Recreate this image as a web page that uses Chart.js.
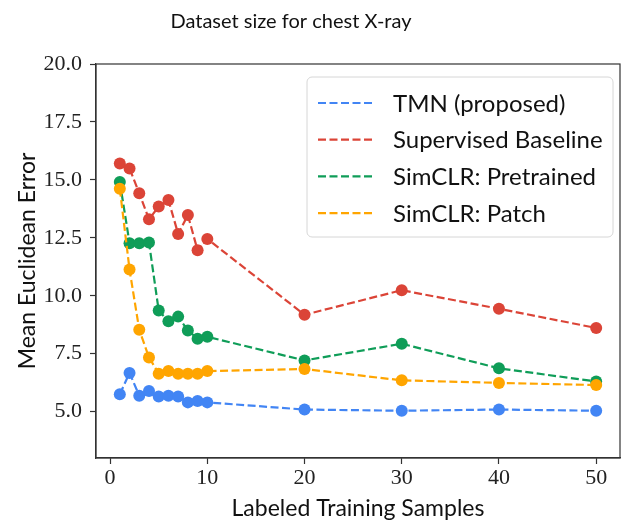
<!DOCTYPE html>
<html>
<head>
<meta charset="utf-8">
<script src="https://cdn.jsdelivr.net/npm/chart.js@4.4.0/dist/chart.umd.min.js"></script>
<style>
  html, body { margin: 0; padding: 0; background: #fff; }
  #wrap { width: 626px; height: 522px; }
</style>
</head>
<body>
<div id="wrap"><canvas id="chart" width="626" height="522"></canvas></div>
<script>
// values
const samples = [1, 2, 3, 4, 5, 6, 7, 8, 9, 10, 20, 30, 40, 50];
const tmnError = [5.75, 6.67, 5.69, 5.89, 5.65, 5.69, 5.65, 5.40, 5.46, 5.40, 5.09, 5.04, 5.09, 5.04];
const supervisedError = [15.71, 15.49, 14.42, 13.30, 13.85, 14.13, 12.67, 13.48, 11.96, 12.45, 9.18, 10.24, 9.44, 8.61];
const pretrainedError = [14.91, 12.27, 12.27, 12.30, 9.36, 8.90, 9.10, 8.50, 8.15, 8.23, 7.21, 7.93, 6.87, 6.30];
const patchError = [14.62, 11.13, 8.53, 7.34, 6.64, 6.75, 6.64, 6.64, 6.64, 6.75, 6.84, 6.35, 6.24, 6.15];

const seriesNames = ['TMN (proposed)', 'Supervised Baseline', 'SimCLR: Pretrained', 'SimCLR: Patch'];
const seriesColors = ['#4285F4', '#DB4437', '#0F9D58', '#FFA500'];
const xTicks = [0, 10, 20, 30, 40, 50];
const yTicks = [5.0, 7.5, 10.0, 12.5, 15.0, 17.5, 20.0];

const SANS = 'Lato, "DejaVu Sans", sans-serif';
const SERIF = '"Liberation Serif", "DejaVu Serif", serif';
const DASH = [8, 3.5];

function toPoints(ys) {
    return samples.map((x, i) => ({ x: x, y: ys[i] }));
}

function makeDataset(idx, ys) {
    return {
        label: seriesNames[idx],
        data: toPoints(ys),
        borderColor: seriesColors[idx],
        backgroundColor: seriesColors[idx],
        borderWidth: 2.2,
        borderDash: DASH,
        pointRadius: 6,
        pointHoverRadius: 6,
        pointBorderWidth: 0,
        tension: 0,
        order: 3 - idx   // later series drawn on top, like matplotlib
    };
}

// frame on all four sides + boxed legend in the upper right
const framePlugin = {
    id: 'frame',
    afterLayout(chart) {
        // suptitle sits a bit left of the canvas centre in the reference
        if (chart.titleBlock) {
            chart.titleBlock.left = 0;
            chart.titleBlock.right = 582;
        }
    },
    afterDraw(chart) {
        const { ctx, chartArea: a } = chart;
        ctx.save();
        ctx.strokeStyle = '#333';
        ctx.lineWidth = 1.2;
        ctx.strokeRect(a.left, a.top, a.right - a.left, a.bottom - a.top);

        // legend
        const w = 306, h = 160;
        const lx = a.right - 7 - w, ly = a.top + 13;
        ctx.beginPath();
        ctx.roundRect(lx, ly, w, h, 5);
        ctx.fillStyle = 'rgba(255,255,255,0.8)';
        ctx.fill();
        ctx.strokeStyle = '#d6d6d6';
        ctx.lineWidth = 1;
        ctx.stroke();

        ctx.font = '24px ' + SANS;
        ctx.textBaseline = 'middle';
        ctx.textAlign = 'left';
        chart.data.datasets.forEach((ds, i) => {
            const y = ly + 26 + i * 36.7;
            ctx.beginPath();
            ctx.setLineDash(DASH);
            ctx.strokeStyle = ds.borderColor;
            ctx.lineWidth = 2.2;
            ctx.moveTo(lx + 11, y);
            ctx.lineTo(lx + 65, y);
            ctx.stroke();
            ctx.setLineDash([]);
            ctx.fillStyle = '#111';
            ctx.fillText(ds.label, lx + 86, y + 1);
        });
        ctx.restore();
    }
};

new Chart(document.getElementById('chart'), {
    type: 'line',
    data: {
        datasets: [
            makeDataset(0, tmnError),
            makeDataset(1, supervisedError),
            makeDataset(2, pretrainedError),
            makeDataset(3, patchError)
        ]
    },
    options: {
        responsive: false,
        animation: false,
        layout: { padding: { left: 0, right: 6, top: 0, bottom: 0 } },
        scales: {
            x: {
                type: 'linear',
                min: -1.45,
                max: 52.45,
                afterBuildTicks: (scale) => { scale.ticks = xTicks.map(v => ({ value: v })); },
                afterFit: (scale) => { scale.height = 64; },
                grid: { drawOnChartArea: false, drawTicks: true, tickLength: 6, tickWidth: 1.2, color: '#333' },
                border: { display: true, color: '#333', width: 1.2 },
                ticks: {
                    font: { family: SERIF, size: 22 },
                    color: '#222',
                    padding: 1,
                    maxRotation: 0,
                    callback: (v) => String(v)
                },
                title: {
                    display: true,
                    text: 'Labeled Training Samples',
                    font: { family: SANS, size: 23 },
                    color: '#111',
                    padding: { top: 0, bottom: 0 }
                }
            },
            y: {
                min: 3,
                max: 20,
                afterBuildTicks: (scale) => { scale.ticks = yTicks.map(v => ({ value: v })); },
                afterFit: (scale) => { scale.width = 96; },
                grid: { drawOnChartArea: false, drawTicks: true, tickLength: 6, tickWidth: 1.2, color: '#333' },
                border: { display: true, color: '#333', width: 1.2 },
                ticks: {
                    font: { family: SERIF, size: 22 },
                    color: '#222',
                    padding: 8,
                    callback: (v) => v.toFixed(1)
                },
                title: {
                    display: true,
                    text: 'Mean Euclidean Error',
                    font: { family: SANS, size: 23 },
                    color: '#111',
                    padding: { top: 14, bottom: 0 }
                }
            }
        },
        plugins: {
            legend: { display: false },
            tooltip: { enabled: false },
            title: {
                display: true,
                text: 'Dataset size for chest X-ray',
                font: { family: SANS, size: 20, weight: 'normal' },
                color: '#111',
                padding: { top: 10, bottom: 30 }
            }
        }
    },
    plugins: [framePlugin]
});
</script>
</body>
</html>
